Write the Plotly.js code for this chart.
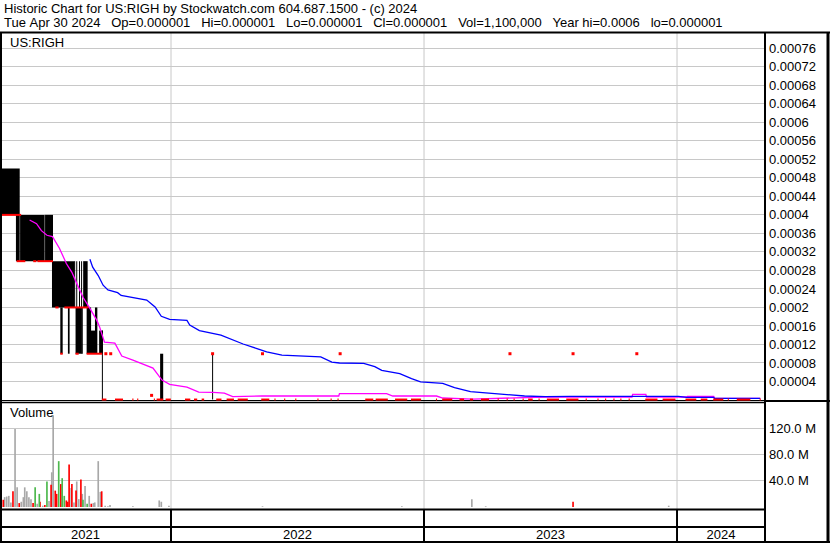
<!DOCTYPE html>
<html><head><meta charset="utf-8">
<script src="https://cdn.plot.ly/plotly-3.0.1.min.js"></script>
<style>html,body{margin:0;padding:0;background:#fff}#chart{width:830px;height:543px}</style>
</head><body><div id="chart"></div>
<script>
// ---------------- DATA ----------------
const symbol = 'US:RIGH';
const headerLine1 = 'Historic Chart for US:RIGH by Stockwatch.com 604.687.1500 - (c) 2024';
const headerLine2 = 'Tue Apr 30 2024   Op=0.000001   Hi=0.000001   Lo=0.000001   Cl=0.000001   Vol=1,100,000   Year hi=0.0006   lo=0.000001';
const volumeLabel = 'Volume';

const chartStart = '2021-04-29 07:00';
const chartEnd = '2024-05-06 22:00';
const yearLabels = ['2021', '2022', '2023', '2024'];

const priceTickVals = [0.00004,0.00008,0.00012,0.00016,0.0002,0.00024,0.00028,0.00032,0.00036,0.0004,0.00044,0.00048,0.00052,0.00056,0.0006,0.00064,0.00068,0.00072,0.00076];
const priceTickText = ['0.00004','0.00008','0.00012','0.00016','0.0002','0.00024','0.00028','0.00032','0.00036','0.0004','0.00044','0.00048','0.00052','0.00056','0.0006','0.00064','0.00068','0.00072','0.00076'];
const volTickVals = [40, 80, 120];            // millions
const volTickText = ['40.0 M', '80.0 M', '120.0 M'];

// high-low bars (runs of daily bars with the same range)
const barStart = ['2021-04-30','2021-05-23','2021-05-29','2021-07-04','2021-07-14','2021-08-15','2021-08-18','2021-08-22','2021-08-25','2021-08-28','2021-07-26','2021-08-06','2021-08-17','2021-08-25','2021-09-02','2021-09-14','2021-09-08','2021-09-20','2021-09-24','2021-12-17','2022-03-02'];
const barEnd   = ['2021-05-27','2021-05-27','2021-07-02','2021-07-14','2021-08-14','2021-08-15','2021-08-18','2021-08-22','2021-08-25','2021-09-02','2021-07-28','2021-08-07','2021-08-24','2021-08-26','2021-09-07','2021-09-16','2021-09-13','2021-09-24','2021-09-24','2021-12-20','2022-03-02'];
const barLow   = [0.0004,0.0003,0.0003,0.0003,0.0002,0.0002,0.0002,0.0002,0.0002,0.0002,0.0001,0.0001,0.0001,0.0001,0.0001,0.0001,0.0001,0.0001,0.000001,0.000001,0.000001];
const barHigh  = [0.0005,0.0004,0.0004,0.0004,0.0003,0.0003,0.0003,0.0003,0.0003,0.0003,0.0002,0.0002,0.0002,0.0002,0.0002,0.0002,0.00015,0.00015,0.00015,0.0001,0.0001];

// closing price runs (red ticks)
const closeStart = ['2021-04-30','2021-05-24','2021-06-17','2021-06-23','2021-07-19','2021-08-01','2021-07-26','2021-08-17','2021-09-02',
  '2021-09-24','2021-10-13','2021-11-07','2021-11-14','2021-12-08','2021-12-12','2021-12-25',
  '2022-01-22','2022-02-04','2022-02-15','2022-03-08','2022-03-23','2022-04-08','2022-05-12','2022-05-31','2022-06-14','2022-06-30','2022-08-01','2022-08-20','2022-08-30','2022-10-09','2022-10-24','2022-11-21','2022-12-14',
  '2023-01-19','2023-01-28','2023-02-22','2023-03-09','2023-03-25','2023-04-18','2023-05-01','2023-05-11','2023-05-24','2023-06-01','2023-06-16','2023-06-28','2023-07-26','2023-08-23','2023-09-09','2023-09-20','2023-10-02','2023-10-12','2023-10-24','2023-11-17','2023-12-12',
  '2024-01-14','2024-02-05','2024-02-23','2024-03-15','2024-03-28','2024-04-30'];
const closeEnd = ['2021-05-29','2021-06-04','2021-06-20','2021-07-14','2021-07-22','2021-09-03','2021-07-28','2021-08-20','2021-09-23',
  '2021-09-29','2021-10-23','2021-11-07','2021-11-14','2021-12-08','2021-12-20','2021-12-31',
  '2022-01-28','2022-02-07','2022-02-17','2022-03-14','2022-04-01','2022-04-21','2022-05-22','2022-05-31','2022-06-14','2022-06-30','2022-08-01','2022-08-20','2022-08-30','2022-10-19','2022-11-09','2022-12-07','2022-12-27',
  '2023-01-19','2023-02-10','2023-02-27','2023-03-12','2023-04-04','2023-04-18','2023-05-01','2023-05-11','2023-05-24','2023-06-06','2023-06-16','2023-07-14','2023-08-11','2023-08-23','2023-09-09','2023-09-20','2023-10-02','2023-10-12','2023-10-24','2023-12-03','2023-12-29',
  '2024-01-28','2024-02-13','2024-03-07','2024-03-15','2024-04-15','2024-04-30'];
const closeValue = [0.0004,0.0003,0.0003,0.0003,0.0002,0.0002,0.0001,0.0001,0.0001,
  0.000001,0.000001,0.000001,0.000001,0.000001,0.000001,0.000001,
  0.000001,0.000001,0.000001,0.000001,0.000001,0.000001,0.000001,0.000001,0.000001,0.000001,0.000001,0.000001,0.000001,0.000001,0.000001,0.000001,0.000001,
  0.000001,0.000001,0.000001,0.000001,0.000001,0.000001,0.000001,0.000001,0.000001,0.000001,0.000001,0.000001,0.000001,0.000001,0.000001,0.000001,0.000001,0.000001,0.000001,0.000001,0.000001,
  0.000001,0.000001,0.000001,0.000001,0.000001,0.000001];

// single-trade days (open = high = low = close)
const dotDates = ['2021-09-29','2021-10-06','2021-12-04','2022-03-02','2022-05-13','2022-09-02','2023-05-05','2023-08-04','2023-11-04'];
const dotValues = [0.0001,0.0001,0.00001,0.0001,0.0001,0.0001,0.0001,0.0001,0.0001];

// short moving average (magenta)
const maShortDates = ['2021-06-11','2021-06-21','2021-06-28','2021-07-06','2021-07-14','2021-07-24','2021-08-03','2021-08-11','2021-08-18','2021-08-27','2021-09-06','2021-09-16','2021-09-20','2021-09-27','2021-10-12','2021-10-22','2021-11-07','2021-11-17','2021-12-06','2021-12-19','2021-12-30','2022-01-24','2022-02-10','2022-03-03','2022-03-19','2022-03-31','2022-05-12','2022-08-31','2022-09-01','2022-11-08','2022-11-17','2023-01-19','2023-01-28','2023-03-12','2023-04-30','2023-06-25','2023-10-28','2023-10-29','2023-11-17','2023-11-18','2024-01-15','2024-01-16','2024-02-23','2024-02-24','2024-04-30'];
const maShortValues = [0.000389,0.000381,0.000366,0.000356,0.000353,0.000328,0.000295,0.000276,0.000252,0.000222,0.000198,0.000172,0.000158,0.000125,0.000123,0.000095,0.000086,0.000080,0.000069,0.000043,0.000034,0.000028,0.0000172,0.0000165,0.0000150,0.0000071,0.0000086,0.0000086,0.0000136,0.0000136,0.0000086,0.0000086,0.0000043,0.000002,0.0000043,0.0000065,0.0000065,0.0000123,0.0000123,0.0000065,0.0000065,0.000008,0.000008,0.0000037,0.0000037];

// long moving average (blue)
const maLongDates = ['2021-09-06','2021-09-10','2021-09-18','2021-09-25','2021-10-02','2021-10-16','2021-10-21','2021-11-27','2021-12-09','2021-12-18','2021-12-30','2022-01-24','2022-01-28','2022-02-11','2022-03-14','2022-04-15','2022-05-05','2022-05-19','2022-06-10','2022-07-06','2022-08-05','2022-08-21','2022-09-01','2022-10-06','2022-10-22','2022-11-01','2022-11-27','2022-12-14','2022-12-27','2023-01-28','2023-02-14','2023-03-09','2023-03-22','2023-04-20','2023-05-26','2023-06-25','2023-07-31','2024-01-03','2024-01-15','2024-02-23','2024-02-24','2024-04-30'];
const maLongValues = [0.000304,0.000287,0.000269,0.000248,0.000238,0.000232,0.000226,0.000216,0.000201,0.000181,0.000174,0.000172,0.000162,0.000150,0.000140,0.000121,0.000111,0.000104,0.000097,0.000095,0.000093,0.000082,0.000080,0.000079,0.000072,0.000064,0.000057,0.000046,0.000039,0.000036,0.000027,0.000018,0.0000166,0.000013,0.0000086,0.0000071,0.000008,0.000008,0.0000058,0.0000058,0.0000037,0.0000037];

// daily volume in millions; direction: 'u' up (green), 'd' down (red), 'n' unchanged (grey)
const volDates = ['2021-04-30','2021-05-04','2021-05-06','2021-05-09','2021-05-12','2021-05-15','2021-05-18','2021-05-21','2021-05-24','2021-05-27','2021-05-30','2021-06-02','2021-06-04','2021-06-07','2021-06-10','2021-06-13','2021-06-16','2021-06-19','2021-06-22','2021-06-25','2021-06-26','2021-06-30','2021-07-03','2021-07-06','2021-07-09','2021-07-12','2021-07-13','2021-07-15','2021-07-18','2021-07-20','2021-07-23','2021-07-26','2021-07-28','2021-07-31','2021-08-03','2021-08-05','2021-08-07','2021-08-10','2021-08-11','2021-08-14','2021-08-17','2021-08-18','2021-08-21','2021-08-24','2021-08-26','2021-08-27','2021-08-30','2021-09-02','2021-09-05','2021-09-08','2021-09-11','2021-09-13','2021-09-18','2021-09-21','2021-09-23','2021-09-28','2021-10-02','2021-10-05','2021-11-07','2021-12-15','2021-12-18','2021-12-29','2022-05-13','2022-11-30','2023-03-11','2023-03-31','2023-08-04','2023-12-20'];
const volValues = [34,11,15,16,17,7,24,119,30,6,8,15,30,24,15,12,6,30,5,20,8,2,3,39,9,34,53,140,25,20,70,35,44,17,10,8,65,29,35,7,25,39,12,42,20,11,32,5,17,5,6,7,70,23,24,2,1,3,1,10,8,2,1,1,12,1,8,2];
const volDir = ['n','d','n','n','n','n','d','n','n','d','n','n','n','n','n','n','d','u','n','u','d','n','d','u','n','d','n','n','d','d','u','d','u','u','d','d','d','n','d','n','d','n','n','d','n','u','n','u','n','d','n','n','n','n','d','n','n','n','n','n','n','n','n','n','n','n','d','n'];

// ---------------- LAYOUT GEOMETRY ----------------
const W = 830, Hh = 543, ML = 0, MR = 65, MT = 33, MB = 16;
const PW = W - ML - MR, PH = Hh - MT - MB;
const px = x => (x - ML) / PW;
const py = y => (Hh - MB - y) / PH;
const DAY = 86400000;
const toMs = s => Date.parse(s.replace(' ', 'T') + (s.length > 10 ? ':00Z' : 'T00:00:00Z'));
const fmt = ms => new Date(ms).toISOString().slice(0, 19).replace('T', ' ');

const GRID = '#c8c8c8';
const FONT = 'Liberation Sans, Arial, sans-serif';

// ---------------- TRACES ----------------
const traces = [];

// high-low bars
const bx = [], bw = [], bb = [], bh = [];
for (let i = 0; i < barStart.length; i++) {
  const a = toMs(barStart[i]) - 0.72 * DAY, b = toMs(barEnd[i]) + 0.72 * DAY;
  bx.push(fmt((a + b) / 2)); bw.push(b - a); bb.push(barLow[i]); bh.push(barHigh[i] - barLow[i]);
}
traces.push({type: 'bar', x: bx, y: bh, base: bb, width: bw, xaxis: 'x', yaxis: 'y',
  marker: {color: '#000000', line: {width: 0}}, hoverinfo: 'skip'});

// moving averages
traces.push({type: 'scatter', mode: 'lines', x: maShortDates, y: maShortValues, xaxis: 'x', yaxis: 'y',
  line: {color: '#ff00ff', width: 1.3}, hoverinfo: 'skip'});
traces.push({type: 'scatter', mode: 'lines', x: maLongDates, y: maLongValues, xaxis: 'x', yaxis: 'y',
  line: {color: '#0000ff', width: 1.3}, hoverinfo: 'skip'});

// close ticks
const cx = [], cy = [];
for (let i = 0; i < closeStart.length; i++) {
  cx.push(fmt(toMs(closeStart[i]) - 0.8 * DAY), fmt(toMs(closeEnd[i]) + 0.8 * DAY), null);
  cy.push(closeValue[i], closeValue[i], null);
}
traces.push({type: 'scatter', mode: 'lines', x: cx, y: cy, xaxis: 'x', yaxis: 'y',
  line: {color: '#ff0000', width: 2}, connectgaps: false, hoverinfo: 'skip'});
traces.push({type: 'scatter', mode: 'markers', x: dotDates, y: dotValues, xaxis: 'x', yaxis: 'y',
  marker: {color: '#ff0000', symbol: 'square', size: 3, line: {width: 0}}, hoverinfo: 'skip'});

// volume
const dirColor = {n: '#a8a8a8', d: '#ff0000', u: '#4cb84c'};
['n', 'd', 'u'].forEach(d => {
  const xs = [], ys = [];
  volDates.forEach((t, i) => { if (volDir[i] === d) { xs.push(t); ys.push(volValues[i]); } });
  traces.push({type: 'bar', x: xs, y: ys, width: 2.4 * DAY, xaxis: 'x2', yaxis: 'y2',
    marker: {color: dirColor[d], line: {width: 0}}, hoverinfo: 'skip'});
});

// ---------------- AXES / SHAPES ----------------
const r0 = toMs(chartStart), r1 = toMs(chartEnd);
const yearMid = yearLabels.map(y => {
  const a = Math.max(r0, toMs(y + '-01-01'));
  const b = Math.min(r1, toMs((+y + 1) + '-01-01'));
  return fmt((a + b) / 2);
});
const yearBounds = yearLabels.slice(1).map(y => y + '-01-01');

const priceBottomPx = 402, priceTopPx = 33, priceZeroPx = 400;
const pxPerUnit = (priceZeroPx - 48.3) / 0.00076;
const volZeroPx = 507, pxPerM = 26.2 / 40;

const shapes = [];
const line = (x0, y0, x1, y1, w, c) => shapes.push({type: 'line', xref: 'paper', yref: 'paper',
  x0: px(x0), y0: py(y0), x1: px(x1), y1: py(y1), line: {color: c, width: w}, layer: 'above'});

yearBounds.forEach(d => {
  shapes.push({type: 'line', xref: 'x', yref: 'paper', x0: d, x1: d, y0: py(509), y1: py(33), line: {color: GRID, width: 1}, layer: 'below'});
  shapes.push({type: 'line', xref: 'x', yref: 'paper', x0: d, x1: d, y0: py(509), y1: py(542), line: {color: '#000', width: 2}, layer: 'above'});
});
line(0, 32.5, W, 32.5, 2, '#000');
line(1, 32, 1, 543, 2, '#000');
line(765, 32, 765, 543, 2, '#000');
line(828, 32, 828, 543, 3, '#000');
line(0, 402.5, 765, 402.5, 1.5, '#000');
line(765, 401, W, 401, 2, '#000');
line(0, 509.5, 765, 509.5, 2, '#000');
line(0, 527, 765, 527, 2, '#000');
line(0, 542, W, 542, 2, '#000');

const hdrFont = {size: 13, color: '#000', family: FONT};
const annotations = [
  {text: headerLine1, x: px(2), y: py(8.5), xref: 'paper', yref: 'paper', xanchor: 'left', yanchor: 'middle', showarrow: false, font: hdrFont},
  {text: headerLine2.replace(/ /g, '\u00a0'), x: px(2), y: py(22), xref: 'paper', yref: 'paper', xanchor: 'left', yanchor: 'middle', showarrow: false, font: hdrFont},
  {text: symbol, x: px(8), y: py(42), xref: 'paper', yref: 'paper', xanchor: 'left', yanchor: 'middle', showarrow: false, font: {size: 13, color: '#000', family: FONT}},
  {text: volumeLabel, x: px(8), y: py(412), xref: 'paper', yref: 'paper', xanchor: 'left', yanchor: 'middle', showarrow: false, font: {size: 13, color: '#000', family: FONT}}
];

const layout = {
  width: W, height: Hh,
  margin: {l: ML, r: MR, t: MT, b: MB, pad: 0},
  paper_bgcolor: '#fff', plot_bgcolor: '#fff',
  showlegend: false, barmode: 'overlay', hovermode: false,
  font: {family: FONT, size: 13, color: '#000'},
  xaxis: {type: 'date', range: [chartStart, chartEnd], anchor: 'y', domain: [0, 1],
    showgrid: false, zeroline: false, showticklabels: false, ticks: '', showline: false},
  xaxis2: {type: 'date', matches: 'x', anchor: 'y2', domain: [0, 1],
    showgrid: false, zeroline: false, showline: false, ticks: '',
    tickmode: 'array', tickvals: yearMid, ticktext: yearLabels, tickfont: {size: 13, color: '#000'},
    ticklabelstandoff: 16},
  yaxis: {domain: [py(priceBottomPx), py(priceTopPx)], side: 'right', anchor: 'x',
    range: [-(priceBottomPx - priceZeroPx) / pxPerUnit, (priceZeroPx - priceTopPx) / pxPerUnit],
    tickmode: 'array', tickvals: priceTickVals, ticktext: priceTickText,
    showgrid: true, gridcolor: GRID, gridwidth: 1, zeroline: true, zerolinecolor: '#000', zerolinewidth: 1,
    ticks: '', showline: false, tickfont: {size: 13, color: '#000'}, ticklabelstandoff: 3},
  yaxis2: {domain: [py(509), py(403)], side: 'right', anchor: 'x2',
    range: [-(509 - volZeroPx) / pxPerM, (volZeroPx - 403) / pxPerM],
    tickmode: 'array', tickvals: volTickVals, ticktext: volTickText,
    showgrid: true, gridcolor: GRID, gridwidth: 1, zeroline: false,
    ticks: '', showline: false, tickfont: {size: 13, color: '#000'}, ticklabelstandoff: 3},
  shapes: shapes,
  annotations: annotations
};

Plotly.newPlot('chart', traces, layout, {displayModeBar: false, staticPlot: true});
</script>
</body></html>
